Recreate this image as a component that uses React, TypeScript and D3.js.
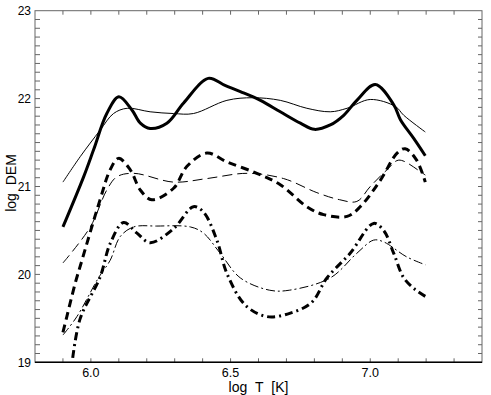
import React from "react";
import * as d3 from "d3";

const xTicks = [6.0, 6.5, 7.0];
const yTicks = [19, 20, 21, 22, 23];

const solidThickT = [5.9, 5.974, 6.01, 6.057, 6.1, 6.147, 6.177, 6.212, 6.272, 6.332, 6.42, 6.48, 6.535, 6.607, 6.678, 6.75, 6.8, 6.857, 6.905, 6.952, 7.018, 7.084, 7.108, 7.155, 7.197];
const solidThickV = [20.54, 21.11, 21.42, 21.83, 22.02, 21.87, 21.72, 21.66, 21.72, 21.95, 22.23, 22.15, 22.08, 21.98, 21.85, 21.72, 21.65, 21.7, 21.81, 21.98, 22.16, 21.93, 21.76, 21.55, 21.35];

const solidThinT = [5.9, 5.962, 6.033, 6.081, 6.13, 6.212, 6.296, 6.367, 6.487, 6.58, 6.678, 6.773, 6.857, 6.917, 7.0, 7.09, 7.12, 7.197];
const solidThinV = [21.05, 21.34, 21.64, 21.83, 21.89, 21.85, 21.83, 21.83, 21.98, 22.01, 21.98, 21.89, 21.85, 21.89, 21.99, 21.91, 21.81, 21.62];

const dashThickT = [5.9, 5.914, 5.944, 5.968, 6.033, 6.069, 6.099, 6.141, 6.177, 6.218, 6.296, 6.344, 6.415, 6.487, 6.594, 6.678, 6.773, 6.833, 6.917, 6.964, 7.036, 7.096, 7.125, 7.166, 7.197];
const dashThickV = [19.34, 19.52, 19.9, 20.16, 20.85, 21.19, 21.32, 21.19, 20.96, 20.85, 20.98, 21.23, 21.38, 21.28, 21.15, 21.02, 20.77, 20.68, 20.66, 20.77, 21.07, 21.38, 21.43, 21.3, 21.05];

const dashThinT = [5.9, 5.998, 6.057, 6.093, 6.153, 6.296, 6.415, 6.56, 6.69, 6.809, 6.89, 6.952, 7.0, 7.06, 7.102, 7.179, 7.197];
const dashThinV = [20.13, 20.54, 20.96, 21.11, 21.15, 21.05, 21.09, 21.15, 21.09, 20.93, 20.85, 20.83, 21.0, 21.19, 21.3, 21.17, 21.13];

const dotThickT = [5.935, 5.962, 6.033, 6.069, 6.117, 6.165, 6.212, 6.296, 6.367, 6.403, 6.451, 6.487, 6.553, 6.63, 6.714, 6.79, 6.845, 6.928, 7.012, 7.048, 7.084, 7.12, 7.16, 7.197];
const dotThickV = [19.05, 19.5, 19.97, 20.35, 20.59, 20.47, 20.36, 20.52, 20.77, 20.71, 20.39, 20.01, 19.65, 19.52, 19.56, 19.68, 19.96, 20.24, 20.58, 20.5, 20.24, 19.96, 19.83, 19.75];

const dotThinT = [5.9, 5.95, 6.027, 6.069, 6.105, 6.153, 6.236, 6.356, 6.403, 6.463, 6.535, 6.64, 6.71, 6.857, 6.952, 7.012, 7.048, 7.13, 7.197];
const dotThinV = [19.31, 19.52, 19.96, 20.16, 20.43, 20.54, 20.55, 20.54, 20.47, 20.24, 19.96, 19.82, 19.82, 19.96, 20.24, 20.39, 20.37, 20.2, 20.11];

const series = [
  { t: solidThinT, v: solidThinV, w: 1, dash: "" },
  { t: dashThinT, v: dashThinV, w: 1, dash: "10,5" },
  { t: dotThinT, v: dotThinV, w: 1, dash: "9,3,2,3" },
  { t: solidThickT, v: solidThickV, w: 3, dash: "" },
  { t: dashThickT, v: dashThickV, w: 3, dash: "8,5" },
  { t: dotThickT, v: dotThickV, w: 3, dash: "8,4,2,4" },
];

const L = 35, R = 482, T = 10.7, B = 362.3;

export default function App() {
  const x = d3.scaleLinear().domain([5.8, 7.4]).range([L, R]);
  const y = d3.scaleLinear().domain([19, 23]).range([B, T]);
  const line = d3
    .line<[number, number]>()
    .x((d) => x(d[0]))
    .y((d) => y(d[1]))
    .curve(d3.curveCatmullRom.alpha(0.5));
  const xMinor = d3.range(59, 74).map((k) => k / 10);
  const yMinor = d3.range(191, 230).map((k) => k / 10);
  const font = "Helvetica, Arial, 'Liberation Sans', sans-serif";
  const frame = "#666";
  return (
    <svg width={491} height={395} style={{ position: "absolute", left: 0, top: 0, background: "#fff" }}>
      <defs>
        <clipPath id="plot">
          <rect x={L} y={T} width={R - L} height={B - T} />
        </clipPath>
      </defs>
      <g clipPath="url(#plot)">
        {series.map((s, i) => (
          <path
            key={i}
            d={line(s.t.map((t, j) => [t, s.v[j]] as [number, number])) || ""}
            fill="none"
            stroke="#000"
            strokeWidth={s.w}
            strokeDasharray={s.dash || undefined}
            strokeLinejoin="round"
          />
        ))}
      </g>
      {xMinor.map((v, i) => (
        <g key={"xt" + i}>
          <line x1={x(v)} x2={x(v)} y1={B} y2={B - 4} stroke={frame} strokeWidth={1} />
          <line x1={x(v)} x2={x(v)} y1={T} y2={T + 4} stroke={frame} strokeWidth={1} />
        </g>
      ))}
      {yMinor.map((v, i) => (
        <g key={"yt" + i}>
          <line x1={L} x2={L + 5} y1={y(v)} y2={y(v)} stroke={frame} strokeWidth={1} />
          <line x1={R} x2={R - 4} y1={y(v)} y2={y(v)} stroke={frame} strokeWidth={1} />
        </g>
      ))}
      <rect x={L} y={T} width={R - L} height={B - T} fill="none" stroke={frame} strokeWidth={1} />
      <line x1={L} x2={R} y1={B} y2={B} stroke="#000" strokeWidth={1.6} />
      {yTicks.map((v) => (
        <text key={"yl" + v} x={L - 4} y={y(v)} dy="0.36em" textAnchor="end" fontFamily={font} fontSize={12} fill="#000">
          {v}
        </text>
      ))}
      {xTicks.map((v) => (
        <text key={"xl" + v} x={x(v)} y={B + 15} textAnchor="middle" fontFamily={font} fontSize={12.5} fill="#000">
          {v.toFixed(1)}
        </text>
      ))}
      <text x={(L + R) / 2} y={392} textAnchor="middle" fontFamily={font} fontSize={14} fill="#000">
        {"log\u00A0\u00A0T\u00A0\u00A0[K]"}
      </text>
      <text
        transform={`translate(16,183) rotate(-90)`}
        textAnchor="middle"
        fontFamily={font}
        fontSize={14}
        fill="#000"
      >
        {"log\u00A0\u00A0DEM"}
      </text>
    </svg>
  );
}
